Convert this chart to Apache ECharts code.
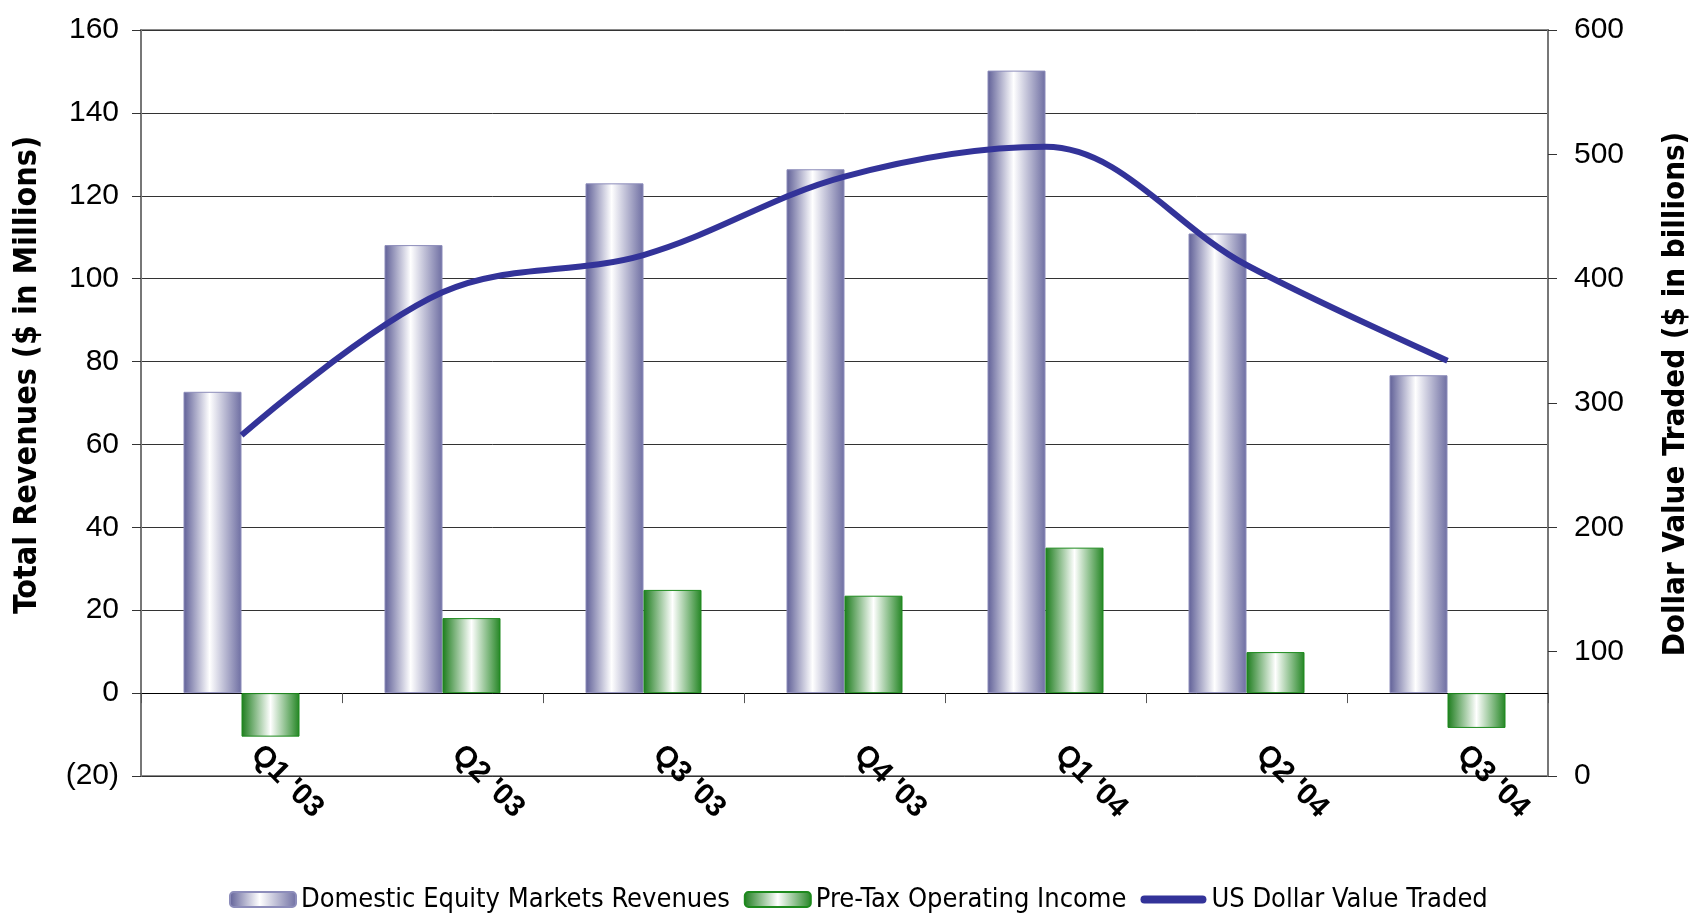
<!DOCTYPE html>
<html>
<head>
<meta charset="utf-8">
<script src="https://cdn.jsdelivr.net/npm/echarts@6/dist/echarts.min.js"></script>
<style>
  html, body { margin: 0; padding: 0; background: #fff; }
  #chart { width: 1699px; height: 915px; }
</style>
</head>
<body>
<div id="chart"></div>
<script>
const quarters = ["Q1 '03", "Q2 '03", "Q3 '03", "Q4 '03", "Q1 '04", "Q2 '04", "Q3 '04"];
const equityRevenues = [72.7, 108.1, 123.0, 126.4, 150.2, 110.9, 76.7];
const preTaxIncome = [-10.5, 18.1, 24.9, 23.5, 35.1, 9.9, -8.4];
const dollarValueTraded = [274, 389, 419, 482, 506, 411, 334];
const seriesNames = ["Domestic Equity Markets Revenues", "Pre-Tax Operating Income", "US Dollar Value Traded"];

const narrow = "'Liberation Sans Narrow', 'Arial Narrow', 'DejaVu Sans Condensed', sans-serif";
const arial = "'Liberation Sans', Arial, sans-serif";

const chart = echarts.init(document.getElementById("chart"));

const blueFill = new echarts.graphic.LinearGradient(0, 0, 1, 0, [
  { offset: 0, color: "#5f5f97" },
  { offset: 0.45, color: "#ffffff" },
  { offset: 1, color: "#6e6ea2" },
]);
const greenFill = new echarts.graphic.LinearGradient(0, 0, 1, 0, [
  { offset: 0, color: "#1c7c1c" },
  { offset: 0.5, color: "#ffffff" },
  { offset: 1, color: "#238523" },
]);

// thick rounded bar used as legend icon for the line series
const lineIcon = "path://M4,0 L62,0 A4,4 0 0 1 62,8 L4,8 A4,4 0 0 1 4,0 Z";

const option = {
  backgroundColor: "#ffffff",
  animation: false,
  grid: {
    left: 141,
    right: 150,
    top: 30,
    bottom: 139,
    show: true,
    borderColor: "#8a8a8a",
    borderWidth: 2,
  },
  legend: {
    bottom: -3,
    left: 224,
    itemWidth: 66,
    itemHeight: 15,
    itemGap: 14,
    textStyle: { fontFamily: narrow, fontSize: 27, color: "#000" },
    data: [
      { name: seriesNames[0] },
      { name: seriesNames[1] },
      { name: seriesNames[2], icon: lineIcon },
    ],
  },
  xAxis: {
    type: "category",
    data: quarters,
    axisLine: { onZero: true, lineStyle: { color: "#000", width: 1 } },
    axisTick: { show: true, length: 10, lineStyle: { color: "#555" } },
    axisLabel: {
      rotate: -45,
      margin: -40,
      padding: [0, 0, 0, 20],
      color: "#000",
      fontFamily: arial,
      fontWeight: "bold",
      fontSize: 30,
      interval: 0,
    },
  },
  yAxis: [
    {
      type: "value",
      min: -20,
      max: 160,
      interval: 20,
      name: "Total Revenues ($ in Millions)",
      nameLocation: "middle",
      nameGap: 97,
      nameTextStyle: {
        fontFamily: narrow,
        fontWeight: "bold",
        fontSize: 32,
        color: "#000",
        padding: [0, 0, 0, 56],
      },
      axisLine: { show: true, lineStyle: { color: "#777", width: 2 } },
      axisTick: { show: true, length: 9, lineStyle: { color: "#333" } },
      axisLabel: {
        margin: 22,
        fontFamily: arial,
        fontSize: 30,
        color: "#000",
        formatter: (v) => (v < 0 ? "(" + -v + ")" : String(v)),
      },
      splitLine: { show: true, lineStyle: { color: "#333", width: 1 } },
    },
    {
      type: "value",
      min: 0,
      max: 600,
      interval: 100,
      name: "Dollar Value Traded ($ in billions)",
      nameLocation: "middle",
      nameGap: 112,
      nameRotate: 90,
      nameTextStyle: {
        fontFamily: narrow,
        fontWeight: "bold",
        fontSize: 31,
        color: "#000",
        padding: [0, 0, 0, 18],
      },
      axisLine: { show: true, lineStyle: { color: "#777", width: 2 } },
      axisTick: { show: true, length: 9, lineStyle: { color: "#333" } },
      axisLabel: { margin: 26, fontFamily: arial, fontSize: 30, color: "#000" },
      splitLine: { show: false },
    },
  ],
  series: [
    {
      name: seriesNames[0],
      type: "bar",
      data: equityRevenues,
      barWidth: 58,
      barGap: "0%",
      itemStyle: { color: blueFill, borderColor: "#8c8cba", borderWidth: 1 },
    },
    {
      name: seriesNames[1],
      type: "bar",
      data: preTaxIncome,
      barWidth: 58,
      barGap: "0%",
      itemStyle: { color: greenFill, borderColor: "#1d8a1d", borderWidth: 1 },
    },
    {
      name: seriesNames[2],
      type: "line",
      yAxisIndex: 1,
      data: dollarValueTraded,
      smooth: 0.35,
      symbol: "none",
      lineStyle: { color: "#333399", width: 6 },
      itemStyle: { color: "#333399" },
      z: 5,
    },
  ],
};

chart.setOption(option);
</script>
</body>
</html>
